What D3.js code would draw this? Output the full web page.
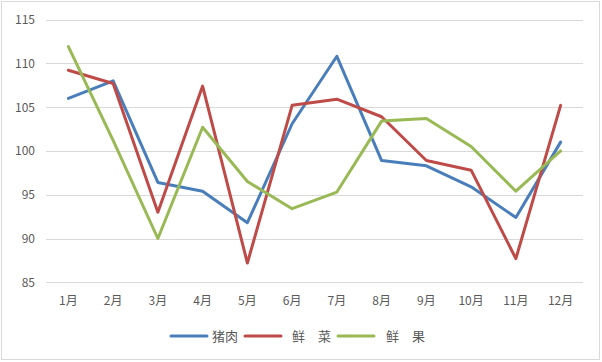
<!DOCTYPE html>
<html>
<head>
<meta charset="utf-8">
<script src="https://cdn.jsdelivr.net/npm/d3@7"></script>
<style>
  body { margin: 0; background: #fff; }
  svg { display: block; font-family: "Noto Sans CJK SC", "DejaVu Sans", sans-serif; }
</style>
</head>
<body>
<svg id="chart" width="602" height="362"></svg>
<script>
// months on the x axis
var months = ['1月', '2月', '3月', '4月', '5月', '6月', '7月', '8月', '9月', '10月', '11月', '12月']
var yTicks = [85, 90, 95, 100, 105, 110, 115]

var pork = [106.0, 108.0, 96.4, 95.4, 91.8, 103.1, 110.8, 98.9, 98.3, 95.9, 92.4, 101.0]
var vegetables = [109.2, 107.7, 93.0, 107.4, 87.2, 105.2, 105.9, 103.9, 98.9, 97.8, 87.7, 105.2]
var fruit = [111.9, 101.2, 90.0, 102.7, 96.5, 93.4, 95.3, 103.4, 103.7, 100.5, 95.4, 100.0]

var seriesNames = ['猪肉', '鲜　菜', '鲜　果']
var colors = ['#4a7ebb', '#be4b48', '#98b954']

var svg = d3.select('#chart')
var plotLeft = 46, plotRight = 583, plotTop = 19.5, plotBottom = 282.3

// outer border
svg.append('rect')
  .attr('x', 1.5).attr('y', 1.5)
  .attr('width', 598).attr('height', 358)
  .attr('fill', '#fff').attr('stroke', '#d9d9d9').attr('stroke-width', 1)

var x = d3.scaleBand().domain(months).range([plotLeft, plotRight])
var y = d3.scaleLinear().domain([85, 115]).range([plotBottom, plotTop])

// grid lines
svg.append('g').selectAll('line')
  .data(yTicks)
  .join('line')
  .attr('x1', plotLeft).attr('x2', plotRight)
  .attr('y1', d => Math.round(y(d)) + 0.5).attr('y2', d => Math.round(y(d)) + 0.5)
  .attr('stroke', '#d9d9d9').attr('stroke-width', 1)

// y labels
svg.append('g').selectAll('text')
  .data(yTicks)
  .join('text')
  .attr('x', 35).attr('y', d => y(d) + 4.5)
  .attr('text-anchor', 'end')
  .attr('font-size', 12).attr('fill', '#595959')
  .text(d => d)

// x labels
svg.append('g').selectAll('text')
  .data(months)
  .join('text')
  .attr('x', d => x(d) + x.bandwidth() / 2).attr('y', 305)
  .attr('text-anchor', 'middle')
  .attr('font-size', 12).attr('fill', '#595959')
  .text(d => d)

var line = d3.line()
  .x((d, i) => x(months[i]) + x.bandwidth() / 2)
  .y(d => y(d))

var allSeries = [pork, vegetables, fruit]
svg.append('g').selectAll('path')
  .data(allSeries)
  .join('path')
  .attr('d', line)
  .attr('fill', 'none')
  .attr('stroke', (d, i) => colors[i])
  .attr('stroke-width', 3)
  .attr('stroke-linejoin', 'round')
  .attr('stroke-linecap', 'round')

// legend
var legendX = [171, 245, 338]
var legendTextX = [212, 292, 386]
var lg = svg.append('g')
seriesNames.forEach(function (name, i) {
  lg.append('line')
    .attr('x1', legendX[i]).attr('x2', legendX[i] + 36)
    .attr('y1', 336).attr('y2', 336)
    .attr('stroke', colors[i]).attr('stroke-width', 3).attr('stroke-linecap', 'round')
  lg.append('text')
    .attr('x', legendTextX[i]).attr('y', 341)
    .attr('font-size', 13).attr('fill', '#595959')
    .text(name)
})
</script>
</body>
</html>
